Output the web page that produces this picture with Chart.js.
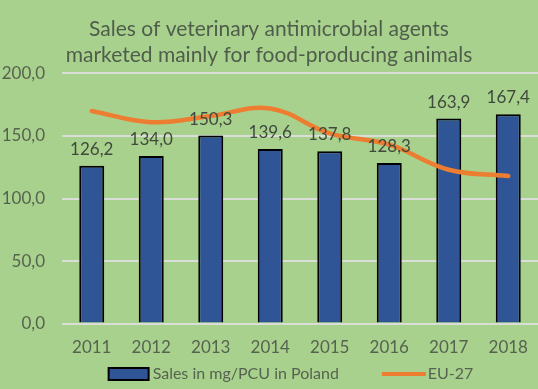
<!DOCTYPE html>
<html>
<head>
<meta charset="utf-8">
<script src="https://cdn.jsdelivr.net/npm/chart.js@4/dist/chart.umd.min.js"></script>
<style>
  html, body { margin: 0; padding: 0; background: #a9d18e; }
  #wrap { width: 538px; height: 389px; }
</style>
</head>
<body>
<div id="wrap"><canvas id="salesChart"></canvas></div>
<script>
const years = ['2011', '2012', '2013', '2014', '2015', '2016', '2017', '2018'];
const polandSales = [126.2, 134.0, 150.3, 139.6, 137.8, 128.3, 163.9, 167.4];
const eu27 = [170, 161, 166, 172, 152, 143, 123, 118];
const yTicks = [0, 50, 100, 150, 200];

const FONT = 'Lato, "Open Sans", sans-serif';
const TEXT = '#56634f';
const ORANGE = '#ed7d31';
const BLUE = '#2f5597';

const fmt = v => v.toFixed(1).replace('.', ',');

// value labels above the bars
const barLabels = {
  id: 'barLabels',
  afterDatasetsDraw(chart) {
    const ctx = chart.ctx;
    const meta = chart.getDatasetMeta(1);
    ctx.save();
    ctx.font = '17px ' + FONT;
    ctx.fillStyle = '#404a3c';
    ctx.textAlign = 'center';
    ctx.textBaseline = 'bottom';
    meta.data.forEach((bar, i) => {
      ctx.fillText(fmt(polandSales[i]), bar.x, bar.y - 8);
    });
    ctx.restore();
  }
};

// bottom legend, spaced like the Excel one
const bottomLegend = {
  id: 'bottomLegend',
  afterDraw(chart) {
    const ctx = chart.ctx;
    const barName = chart.data.datasets[1].label;
    const lineName = chart.data.datasets[0].label;
    ctx.save();
    ctx.font = '16px ' + FONT;
    const w1 = ctx.measureText(barName).width;
    const w2 = ctx.measureText(lineName).width;
    const total = 40 + 4 + w1 + 43 + 44 + 2 + w2;
    let x = 291 - total / 2;
    const y = 374;
    ctx.fillStyle = BLUE;
    ctx.strokeStyle = '#000';
    ctx.lineWidth = 2;
    ctx.fillRect(x, y - 6, 40, 12);
    ctx.strokeRect(x, y - 6, 40, 12);
    x += 44;
    ctx.fillStyle = TEXT;
    ctx.textBaseline = 'middle';
    ctx.fillText(barName, x, y);
    x += w1 + 43;
    ctx.strokeStyle = ORANGE;
    ctx.lineWidth = 4;
    ctx.beginPath();
    ctx.moveTo(x, y);
    ctx.lineTo(x + 44, y);
    ctx.stroke();
    x += 46;
    ctx.fillText(lineName, x, y);
    ctx.restore();
  }
};

new Chart(document.getElementById('salesChart'), {
  data: {
    labels: years,
    datasets: [
      {
        type: 'line',
        label: 'EU-27',
        data: eu27,
        borderColor: ORANGE,
        backgroundColor: ORANGE,
        borderWidth: 4.5,
        tension: 0.4,
        pointRadius: 0,
        borderCapStyle: 'round',
        order: 0
      },
      {
        type: 'bar',
        label: 'Sales in mg/PCU in Poland',
        data: polandSales,
        backgroundColor: BLUE,
        borderColor: '#000000',
        borderWidth: 2,
        barPercentage: 0.42,
        categoryPercentage: 1,
        order: 1
      }
    ]
  },
  options: {
    responsive: true, maintainAspectRatio: false,
    animation: false,
    layout: { padding: { left: 0, right: 0, top: 0, bottom: 25 } },
    plugins: {
      title: {
        display: true,
        text: ['Sales of veterinary antimicrobial agents', 'marketed mainly for food-producing animals'],
        color: '#4f5d4b',
        font: { family: FONT, size: 21, weight: 'normal', lineHeight: 1.2 },
        padding: { top: 17, bottom: 6 }
      },
      legend: { display: false },
      tooltip: { enabled: false }
    },
    scales: {
      x: {
        grid: { display: false },
        border: { display: false },
        ticks: { color: TEXT, font: { family: FONT, size: 17 }, padding: 6 }
      },
      y: {
        min: 0, max: 200,
        afterBuildTicks: axis => { axis.ticks = yTicks.map(v => ({ value: v })); },
        afterFit: axis => { axis.width = 62; },
        grid: { color: '#d9dfd6', lineWidth: 2, drawTicks: false },
        border: { display: false },
        ticks: { color: TEXT, font: { family: FONT, size: 17 }, padding: 17, callback: v => fmt(v) }
      }
    }
  },
  plugins: [barLabels, bottomLegend]
});
</script>
</body>
</html>
